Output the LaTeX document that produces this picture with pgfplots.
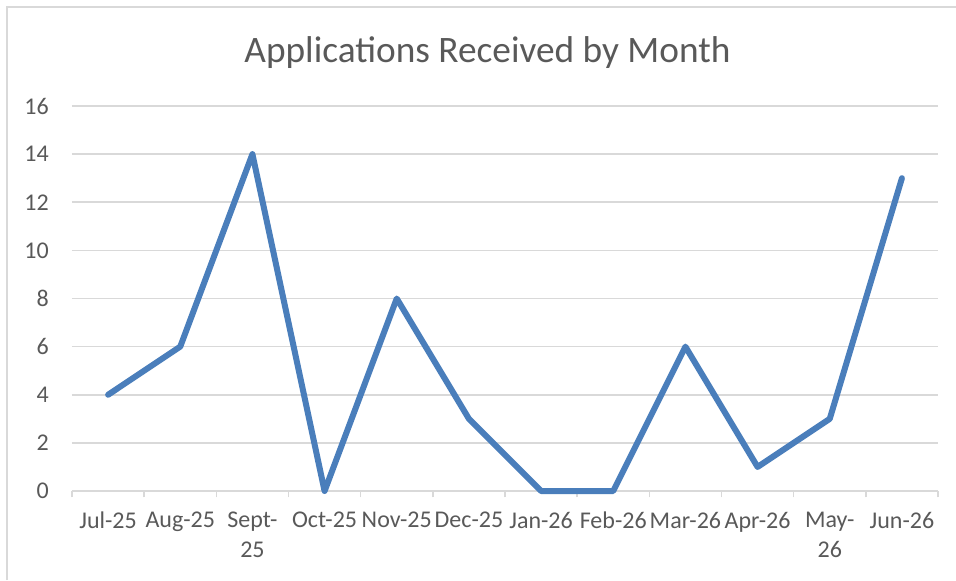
\documentclass[border=0pt]{standalone}
\usepackage{pgfplots}
\pgfplotsset{compat=1.18}
\usepackage{fontspec}
\setmainfont{Carlito}
\definecolor{txtgray}{HTML}{595959}
\definecolor{gridgray}{HTML}{D9D9D9}
\definecolor{lineblue}{HTML}{4A7EBB}
\begin{document}
\begin{tikzpicture}
\path[use as bounding box] (0,0) rectangle (358.5pt,217.5pt);
\draw[gridgray, line width=0.6pt] (2.625pt,0) -- (2.625pt,214.875pt) -- (358.5pt,214.875pt);
\node[anchor=base, text=txtgray, font=\fontsize{14}{17}\selectfont] at (182.8pt,193.9pt) {Applications Received by Month};
\begin{axis}[
  at={(27pt,33.375pt)}, anchor=south west,
  scale only axis, width=324.75pt, height=144.375pt,
  xmin=-0.5, xmax=11.5, ymin=0, ymax=16,
  axis line style={draw=none},
  axis x line*=bottom, axis y line*=left,
  xtick={0,...,11},
  xticklabels={Jul-25,Aug-25,{Sept-\\25},Oct-25,Nov-25,Dec-25,Jan-26,Feb-26,Mar-26,Apr-26,{May-\\26},Jun-26},
  minor xtick={-0.5,0.5,...,11.5},
  ytick={0,2,...,16},
  major tick length=0pt,
  minor tick length=2.4pt,
  tick align=outside,
  minor tick style={gridgray, line width=0.6pt},
  ymajorgrids, major grid style={gridgray, line width=0.6pt},
  tick label style={text=txtgray, font=\fontsize{9}{11.4}\selectfont},
  xticklabel style={align=center, anchor=north, yshift=-4.3pt},
  yticklabel style={anchor=east, xshift=-5.2pt},
  /pgf/number format/assume math mode=true,
  clip=false,
]
\draw[gridgray, line width=0.6pt] (axis cs:-0.5,0) -- (axis cs:11.5,0);
\addplot[lineblue, line width=2.25pt, line join=round, line cap=round, mark=none] coordinates {
(0,4) (1,6) (2,14) (3,0) (4,8) (5,3) (6,0) (7,0) (8,6) (9,1) (10,3) (11,13)
};
\end{axis}
\end{tikzpicture}
\end{document}
